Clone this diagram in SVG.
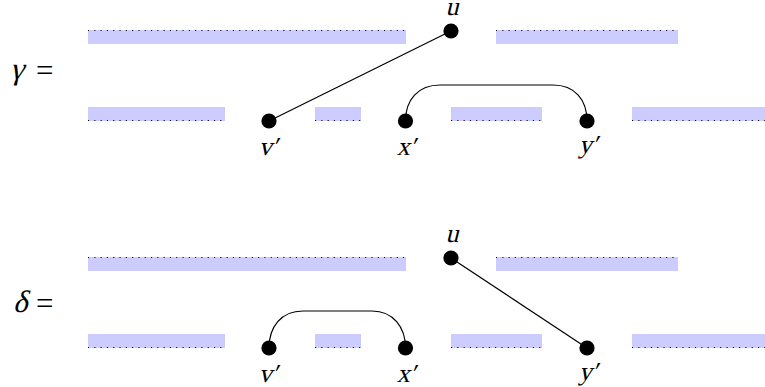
<svg xmlns="http://www.w3.org/2000/svg" width="765" height="387" viewBox="0 0 765 387">
<style>
.band{fill:#ccccff;stroke:none}
.dot{stroke:#000;stroke-width:1.1;stroke-dasharray:1.1 5.2;fill:none}
.edge{stroke:#000;stroke-width:1.2;fill:none}
.node{fill:#000}
.lbl{font-family:'Liberation Serif',serif;font-size:26px;fill:#000;text-anchor:middle}
.eq{font-family:'Liberation Serif',serif;font-size:31px;fill:#000}
</style>
<rect width="765" height="387" fill="#fff"/>
<g id="gamma">
<text class="eq" transform="translate(10,79) skewX(-14)">γ</text>
<text class="eq" x="36" y="81" font-size="34">=</text>
<g id="gamma-bands">
<rect class="band" x="88" y="30" width="318" height="14"/>
<line class="dot" x1="88" y1="30.5" x2="406" y2="30.5"/>
<rect class="band" x="496" y="30" width="182" height="14"/>
<line class="dot" x1="496" y1="30.5" x2="678" y2="30.5"/>
<rect class="band" x="88" y="107" width="137" height="14"/>
<line class="dot" x1="88" y1="120.5" x2="225" y2="120.5"/>
<rect class="band" x="315" y="107" width="46" height="14"/>
<line class="dot" x1="315" y1="120.5" x2="361" y2="120.5"/>
<rect class="band" x="451" y="107" width="91" height="14"/>
<line class="dot" x1="451" y1="120.5" x2="542" y2="120.5"/>
<rect class="band" x="632" y="107" width="133" height="14"/>
<line class="dot" x1="632" y1="120.5" x2="765" y2="120.5"/>
</g>
<g id="gamma-connectors">
<line class="edge" x1="451" y1="31" x2="269" y2="121"/>
<path class="edge" d="M405.5,121 C405.5,100 418,85 440,85 L553,85 C575,85 587,100 587,121"/>
</g>
<g id="gamma-u"><circle class="node" cx="451" cy="31" r="7.6"/><text class="lbl" transform="translate(452,14.5) skewX(-14)">u</text></g>
<g id="gamma-v"><circle class="node" cx="269" cy="121" r="7.6"/><text class="lbl" transform="translate(268,155) skewX(-14)">v′</text></g>
<g id="gamma-x"><circle class="node" cx="405.5" cy="121" r="7.6"/><text class="lbl" transform="translate(406,155) skewX(-14)">x′</text></g>
<g id="gamma-y"><circle class="node" cx="587" cy="121" r="7.6"/><text class="lbl" transform="translate(588,153) skewX(-14)">y′</text></g>
</g>
<g id="delta">
<text class="eq" transform="translate(13,312) skewX(-14)">δ</text>
<text class="eq" x="36" y="314" font-size="34">=</text>
<g id="delta-bands">
<rect class="band" x="88" y="257" width="318" height="14"/>
<line class="dot" x1="88" y1="257.5" x2="406" y2="257.5"/>
<rect class="band" x="496" y="257" width="182" height="14"/>
<line class="dot" x1="496" y1="257.5" x2="678" y2="257.5"/>
<rect class="band" x="88" y="334" width="137" height="14"/>
<line class="dot" x1="88" y1="347.5" x2="225" y2="347.5"/>
<rect class="band" x="315" y="334" width="46" height="14"/>
<line class="dot" x1="315" y1="347.5" x2="361" y2="347.5"/>
<rect class="band" x="451" y="334" width="91" height="14"/>
<line class="dot" x1="451" y1="347.5" x2="542" y2="347.5"/>
<rect class="band" x="632" y="334" width="133" height="14"/>
<line class="dot" x1="632" y1="347.5" x2="765" y2="347.5"/>
</g>
<g id="delta-connectors">
<line class="edge" x1="451" y1="258" x2="587" y2="348"/>
<path class="edge" d="M269,348 C269,327 281,311 303,311 L372,311 C393,311 405.5,327 405.5,348"/>
</g>
<g id="delta-u"><circle class="node" cx="451" cy="258" r="7.6"/><text class="lbl" transform="translate(452,241.5) skewX(-14)">u</text></g>
<g id="delta-v"><circle class="node" cx="269" cy="348" r="7.6"/><text class="lbl" transform="translate(268,382) skewX(-14)">v′</text></g>
<g id="delta-x"><circle class="node" cx="405.5" cy="348" r="7.6"/><text class="lbl" transform="translate(406,382) skewX(-14)">x′</text></g>
<g id="delta-y"><circle class="node" cx="587" cy="348" r="7.6"/><text class="lbl" transform="translate(588,380) skewX(-14)">y′</text></g>
</g>
</svg>
